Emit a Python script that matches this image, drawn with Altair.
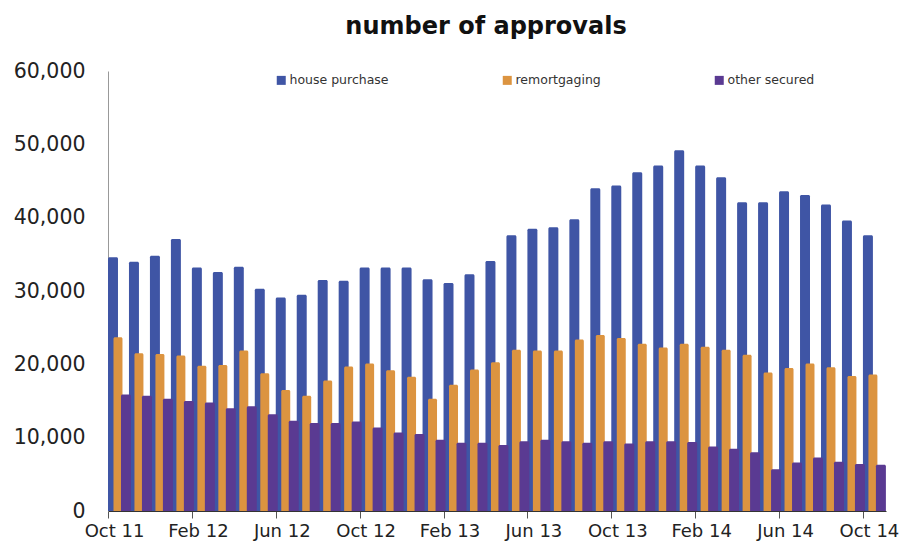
import altair as alt
import pandas as pd

# ---- data ----
series_names = ["house purchase", "remortgaging", "other secured"]
house = [34600, 34000, 34800, 37100, 33200, 32600, 33300, 30300, 29100, 29500,
         31500, 31400, 33200, 33200, 33200, 31600, 31100, 32300, 34100, 37600,
         38500, 38700, 39800, 44000, 44400, 46200, 47100, 49200, 47100, 45500,
         42100, 42100, 43600, 43100, 41800, 39600, 37600]
remort = [23700, 21500, 21400, 21200, 19800, 19900, 21900, 18800, 16500, 15700,
          17800, 19700, 20100, 19200, 18300, 15300, 17200, 19300, 20300, 22000,
          21900, 21900, 23400, 24000, 23600, 22800, 22300, 22800, 22400, 22000,
          21300, 18900, 19500, 20100, 19600, 18400, 18600]
other = [15900, 15700, 15300, 15000, 14800, 14000, 14300, 13200, 12300, 12000,
         12000, 12200, 11400, 10700, 10500, 9700, 9300, 9300, 9000, 9500,
         9700, 9500, 9300, 9500, 9200, 9500, 9500, 9400, 8800, 8500,
         8000, 5700, 6600, 7300, 6700, 6400, 6300]
tick_labels = ["Oct 11", "Feb 12", "Jun 12", "Oct 12", "Feb 13",
               "Jun 13", "Oct 13", "Feb 14", "Jun 14", "Oct 14"]
y_ticks = [0, 10000, 20000, 30000, 40000, 50000, 60000]

# ---- styling ----
colors = ["#3f55a5", "#dc9440", "#5a3a92"]
# overlapping bar placement inside each monthly slot (slot units)
offsets = {"house purchase": (0.0, 0.476),
           "remortgaging": (0.262, 0.69),
           "other secured": (0.619, 1.095)}
FONT = "DejaVu Sans"

rows = []
for name, vals in zip(series_names, [house, remort, other]):
    a, b = offsets[name]
    for i, v in enumerate(vals):
        rows.append({"series": name, "month": i, "x0": i + a, "x1": i + b, "value": v})
df = pd.DataFrame(rows)

n_months = len(house)
label_expr = "[" + ",".join(f"'{t}'" for t in tick_labels) + "][round(datum.value / 4)]"

base = alt.Chart(df).mark_bar(cornerRadiusTopLeft=1.5, cornerRadiusTopRight=1.5).encode(
    x=alt.X("x0:Q",
            scale=alt.Scale(domain=[0, n_months + 0.1], nice=False, zero=False),
            axis=alt.Axis(values=list(range(0, n_months, 4)), labelExpr=label_expr,
                          title=None, grid=False, domainColor="#333333", domainWidth=1.2,
                          tickColor="#555555", tickSize=7, labelFont=FONT, labelFontSize=18,
                          labelColor="#222222", labelPadding=4, labelOffset=6,
                          labelFlush=False, labelOverlap=False)),
    x2="x1:Q",
    y=alt.Y("value:Q", stack=None,
            scale=alt.Scale(domain=[0, 60000], nice=False),
            axis=alt.Axis(values=y_ticks, format=",d", title=None, grid=False, ticks=False,
                          domainColor="#999999", labelFont=FONT, labelFontSize=20.5,
                          labelColor="#222222", labelPadding=23)),
    y2=alt.datum(0),
    color=alt.Color("series:N",
                    scale=alt.Scale(domain=series_names, range=colors),
                    legend=alt.Legend(orient="none", legendX=167, legendY=3,
                                      direction="horizontal", columns=3, columnPadding=112,
                                      symbolType="square", symbolSize=81,
                                      symbolStrokeWidth=0, labelFont=FONT,
                                      labelFontSize=12.5, labelColor="#333333",
                                      labelOffset=2, title=None, padding=0)),
)

layers = [base.transform_filter(alt.datum.series == name) for name in series_names]

chart = alt.layer(*layers).properties(
    width=778,
    height=440,
    autosize="none",
    padding={"left": 100, "top": 63, "right": 19, "bottom": 35},
    title=alt.TitleParams("number of approvals", font=FONT, fontSize=24,
                          fontWeight="bold", color="#111111", anchor="middle",
                          frame="group", dx=-11, offset=22),
).configure_view(stroke=None)

chart.save("out.html", embed_options={"renderer": "svg", "actions": False})
